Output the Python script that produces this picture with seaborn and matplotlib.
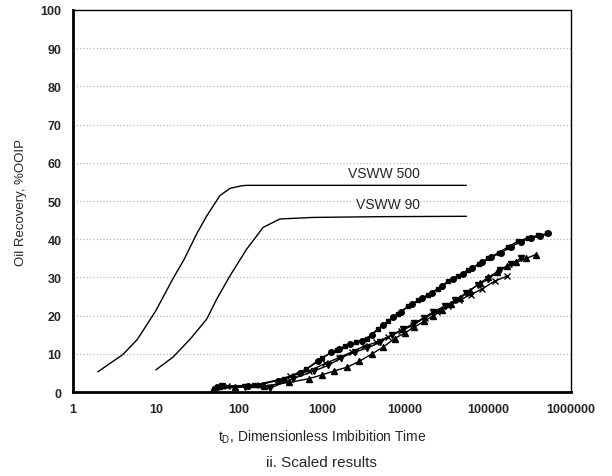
import numpy as np
import pandas as pd
import seaborn as sns
import matplotlib.pyplot as plt
from matplotlib.ticker import LogLocator, MultipleLocator, NullFormatter

# Model curves
vsww500_t = [2, 4, 6, 10, 16, 22, 31, 41, 59, 78, 108, 126, 200, 1000, 10000, 55000]
vsww500_y = [5.3, 9.8, 13.8, 21.3, 29.6, 34.8, 41.4, 46.1, 51.4, 53.3, 54.0, 54.1, 54.1, 54.1, 54.1, 54.1]
vsww90_t = [10, 16, 26, 41, 54, 78, 124, 196, 312, 770, 5000, 55000]
vsww90_y = [5.8, 9.1, 13.9, 19.1, 24.3, 30.4, 37.4, 43.1, 45.3, 45.7, 45.9, 46.0]

# Experimental data
circ_t = [55, 130, 300, 550, 900, 1300, 1600, 2200, 3000, 4000, 5500, 7200, 9000, 12000, 16000,
          21000, 28000, 38000, 50000, 65000, 85000, 110000, 145000, 190000, 250000, 330000, 420000, 535000]
circ_y = [1.2, 1.6, 3.0, 5.0, 8.0, 10.5, 11.3, 12.5, 13.4, 15.0, 17.5, 19.7, 21.0, 23.0, 24.5,
          26.0, 27.8, 29.5, 31.0, 32.5, 34.0, 35.3, 36.5, 38.0, 39.4, 40.3, 40.8, 41.5]
sq_t = [60, 150, 350, 650, 1000, 1500, 1900, 2600, 3500, 4700, 6300, 8200, 11000, 14500, 19000,
        25000, 33000, 44000, 58000, 77000, 100000, 135000, 175000, 230000, 300000, 400000, 520000]
sq_y = [1.3, 1.8, 3.5, 6.0, 9.0, 11.0, 12.0, 13.0, 14.0, 16.5, 18.5, 20.5, 22.5, 24.0, 25.5,
        27.0, 29.0, 30.5, 32.0, 33.5, 35.0, 36.5, 38.0, 39.5, 40.3, 41.0, 41.5]
tup_t = [49, 90, 200, 400, 700, 1000, 1400, 2000, 2800, 4000, 5500, 7500, 10000, 13000, 17000,
         22000, 28000, 36000, 46000, 60000, 80000, 100000, 130000, 170000, 220000, 290000, 380000]
tup_y = [0.8, 1.2, 1.6, 2.5, 3.5, 4.5, 5.5, 6.5, 8.0, 10.0, 11.8, 14.0, 15.5, 17.0, 18.5,
         20.0, 21.5, 23.0, 24.5, 26.5, 28.5, 30.0, 31.5, 33.0, 34.0, 35.0, 36.0]
tdn_t = [62, 120, 236, 450, 800, 1200, 1700, 2500, 3500, 5000, 7000, 9500, 13000, 17000, 22000,
         30000, 40000, 55000, 75000, 100000, 140000, 190000, 250000]
tdn_y = [1.5, 1.4, 1.0, 3.5, 5.5, 7.0, 9.0, 10.5, 11.5, 13.0, 15.0, 16.5, 18.0, 19.5, 21.0,
         22.5, 24.0, 26.0, 28.0, 29.5, 32.0, 33.5, 35.0]
x_t = [71, 178, 410, 700, 1100, 1600, 2300, 3200, 4500, 6300, 9000, 12500, 17500, 24000, 33000,
       45000, 62000, 85000, 120000, 168000]
x_y = [1.6, 1.8, 4.1, 5.5, 7.5, 9.0, 10.5, 12.0, 13.0, 14.5, 16.0, 17.5, 19.5, 21.0, 22.5,
       24.0, 25.5, 27.0, 29.0, 30.3]

sns.set_style("white")
plt.rcParams['font.family'] = ['Liberation Sans', 'DejaVu Sans']
plt.rcParams['mathtext.fontset'] = 'custom'
plt.rcParams['mathtext.rm'] = 'Liberation Sans'

fig = plt.figure(figsize=(6.12, 4.77), dpi=100)
ax = fig.add_axes([0.119, 0.176, 0.814, 0.801])

for yv in range(10, 100, 10):
    ax.axhline(yv, color='#b0b0b0', lw=0.8, ls=(0, (1, 2)), zorder=0)

sns.lineplot(x=vsww500_t, y=vsww500_y, ax=ax, color='black', lw=1.0, sort=False, estimator=None)
sns.lineplot(x=vsww90_t, y=vsww90_y, ax=ax, color='black', lw=1.0, sort=False, estimator=None)

series = [(circ_t, circ_y, 'o', 4), (sq_t, sq_y, 's', 3.5), (tup_t, tup_y, '^', 4),
          (tdn_t, tdn_y, 'v', 4), (x_t, x_y, 'x', 4)]
for t, y, m, ms in series:
    sns.lineplot(x=t, y=y, ax=ax, color='black', lw=1.0, marker=m, markersize=ms,
                 markeredgecolor='black', markerfacecolor='black', markeredgewidth=1.0,
                 sort=False, estimator=None)

ax.set_xscale('log')
ax.set_xlim(1, 1e6)
ax.set_ylim(0, 100)

ax.text(15000, 55.5, 'VSWW 500', ha='right', va='bottom', fontsize=10)
ax.text(15000, 47.4, 'VSWW 90', ha='right', va='bottom', fontsize=10)

ax.xaxis.set_minor_locator(LogLocator(base=10, subs=np.arange(2, 10), numticks=100))
ax.xaxis.set_minor_formatter(NullFormatter())
ax.set_xticks([1, 10, 100, 1000, 10000, 100000, 1000000])
ax.set_xticklabels(['1', '10', '100', '1000', '10000', '100000', '1000000'],
                   fontweight='bold', fontsize=9)
ax.yaxis.set_minor_locator(MultipleLocator(2))
ax.set_yticks(range(0, 101, 10))
ax.set_yticklabels([str(v) for v in range(0, 101, 10)], fontweight='bold', fontsize=9)

ax.tick_params(axis='both', which='major', direction='in', length=6, width=1.0, color='black', pad=8)
ax.tick_params(axis='both', which='minor', direction='in', length=3, width=1.0, color='black')
ax.tick_params(top=False, right=False, which='both')

for s in ['left', 'bottom']:
    ax.spines[s].set_linewidth(2.0)
for s in ['top', 'right']:
    ax.spines[s].set_linewidth(1.0)
for s in ax.spines.values():
    s.set_color('black')

ax.set_ylabel('Oil Recovery, %OOIP', fontsize=9.5, labelpad=10)
ax.set_xlabel(r't$_{\mathrm{D}}$, Dimensionless Imbibition Time', fontsize=10, labelpad=9)
fig.text(0.526, 0.03, 'ii. Scaled results', ha='center', va='center', fontsize=11)

fig.savefig('out.png', dpi=100)
